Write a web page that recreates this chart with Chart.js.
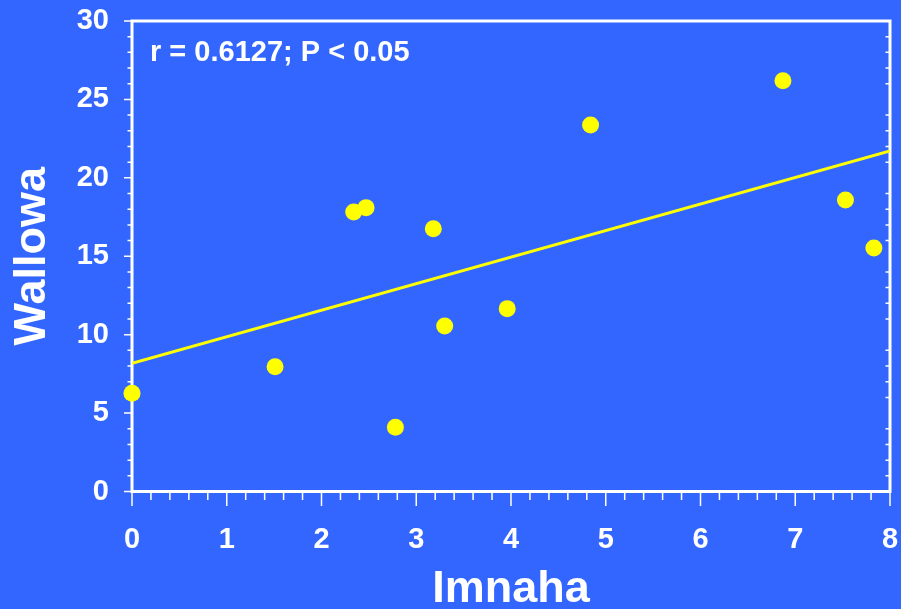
<!DOCTYPE html>
<html>
<head>
<meta charset="utf-8">
<script src="https://cdn.jsdelivr.net/npm/chart.js@4.4.1/dist/chart.umd.min.js"></script>
<style>
  html, body { margin: 0; padding: 0; background: #3366FF; }
  #c { display: block; }
</style>
</head>
<body>
<canvas id="c" width="901" height="609"></canvas>
<script>
// ---- data ----
const imnaha  = [0.00, 1.51, 2.34, 2.47, 2.78, 3.18, 3.30, 3.96, 4.84, 6.87, 7.53, 7.83];
const wallowa = [6.26, 7.96, 17.82, 18.10, 4.09, 16.76, 10.55, 11.66, 23.37, 26.19, 18.59, 15.53];
const fitX = [0, 8];
const fitY = [8.17, 21.71];
const xTickValues = [0, 1, 2, 3, 4, 5, 6, 7, 8];
const yTickValues = [0, 5, 10, 15, 20, 25, 30];
const xMinorStep = 0.2;
const yMinorStep = 1;
const xTitle = 'Imnaha';
const yTitle = 'Wallowa';
const statText = 'r = 0.6127; P < 0.05';

const BG = '#3366FF';
const FG = '#FFFFFF';
const YEL = '#FFFF00';
const FONT = '"Liberation Sans", Arial, Helvetica, sans-serif';

const points = imnaha.map((x, i) => ({ x: x, y: wallowa[i] }));
const fitLine = fitX.map((x, i) => ({ x: x, y: fitY[i] }));

function zeroPad(s) {
  s.paddingLeft = 0; s.paddingRight = 0; s.paddingTop = 0; s.paddingBottom = 0;
}

const framePlugin = {
  id: 'frame',
  beforeDraw(chart) {
    const ctx = chart.ctx;
    ctx.save();
    ctx.fillStyle = BG;
    ctx.fillRect(0, 0, chart.width, chart.height);
    ctx.restore();
  },
  beforeDatasetsDraw(chart) {
    const ctx = chart.ctx;
    const a = chart.chartArea;
    const xs = chart.scales.x, ys = chart.scales.y;
    ctx.save();
    ctx.strokeStyle = FG;
    ctx.lineWidth = 1.5;
    ctx.beginPath();
    for (let v = ys.min; v <= ys.max + 1e-9; v += yMinorStep) {
      const py = ys.getPixelForValue(v);
      const major = yTickValues.some(t => Math.abs(t - v) < 1e-6);
      ctx.moveTo(a.left - (major ? 8 : 4.5), py);
      ctx.lineTo(a.left, py);
      if (!major) {
        ctx.moveTo(a.right, py);
        ctx.lineTo(a.right - 4.5, py);
      }
    }
    const n = Math.round((xs.max - xs.min) / xMinorStep);
    for (let i = 0; i <= n; i++) {
      const v = xs.min + i * xMinorStep;
      const px = xs.getPixelForValue(v);
      const major = xTickValues.some(t => Math.abs(t - v) < 1e-6);
      ctx.moveTo(px, a.bottom);
      ctx.lineTo(px, a.bottom + (major ? 14.5 : 8.5));
    }
    ctx.stroke();
    ctx.lineWidth = 3;
    ctx.strokeRect(a.left, a.top, a.right - a.left, a.bottom - a.top);
    ctx.restore();
  },
  afterDraw(chart) {
    const ctx = chart.ctx;
    const a = chart.chartArea;
    ctx.save();
    ctx.fillStyle = FG;
    ctx.font = 'bold 29px ' + FONT;
    ctx.textAlign = 'left';
    ctx.textBaseline = 'alphabetic';
    ctx.fillText(statText, 150, 61);
    ctx.font = 'bold 45px ' + FONT;
    ctx.textAlign = 'center';
    ctx.fillText(xTitle, (a.left + a.right) / 2, 601.5);
    ctx.translate(45, (a.top + a.bottom) / 2);
    ctx.rotate(-Math.PI / 2);
    ctx.fillText(yTitle, 0, 0);
    ctx.restore();
  }
};

new Chart(document.getElementById('c'), {
  type: 'scatter',
  data: {
    datasets: [
      {
        type: 'line',
        label: 'fit',
        data: fitLine,
        borderColor: YEL,
        borderWidth: 3,
        pointRadius: 0,
        fill: false,
        tension: 0,
        order: 2
      },
      {
        label: 'data',
        data: points,
        backgroundColor: YEL,
        borderColor: YEL,
        borderWidth: 0,
        pointRadius: 8.5,
        pointHoverRadius: 8.5,
        clip: false,
        order: 1
      }
    ]
  },
  options: {
    responsive: false,
    devicePixelRatio: 1,
    animation: false,
    events: [],
    layout: { padding: { top: 21, right: 11, left: 0, bottom: 0 } },
    plugins: {
      legend: { display: false },
      tooltip: { enabled: false },
      title: { display: false }
    },
    scales: {
      x: {
        type: 'linear',
        min: 0, max: 8,
        afterBuildTicks(s) { s.ticks = xTickValues.map(v => ({ value: v })); },
        afterFit(s) { s.height = 117.5; zeroPad(s); },
        ticks: {
          color: FG,
          font: { family: FONT, size: 29, weight: 'bold' },
          padding: 31,
          maxRotation: 0,
          autoSkip: false
        },
        grid: { display: false, drawTicks: false },
        border: { display: false }
      },
      y: {
        type: 'linear',
        min: 0, max: 30,
        afterBuildTicks(s) { s.ticks = yTickValues.map(v => ({ value: v })); },
        afterFit(s) { s.width = 132; zeroPad(s); },
        ticks: {
          color: FG,
          font: { family: FONT, size: 29, weight: 'bold' },
          padding: 23,
          autoSkip: false
        },
        grid: { display: false, drawTicks: false },
        border: { display: false }
      }
    }
  },
  plugins: [framePlugin]
});
</script>
</body>
</html>
